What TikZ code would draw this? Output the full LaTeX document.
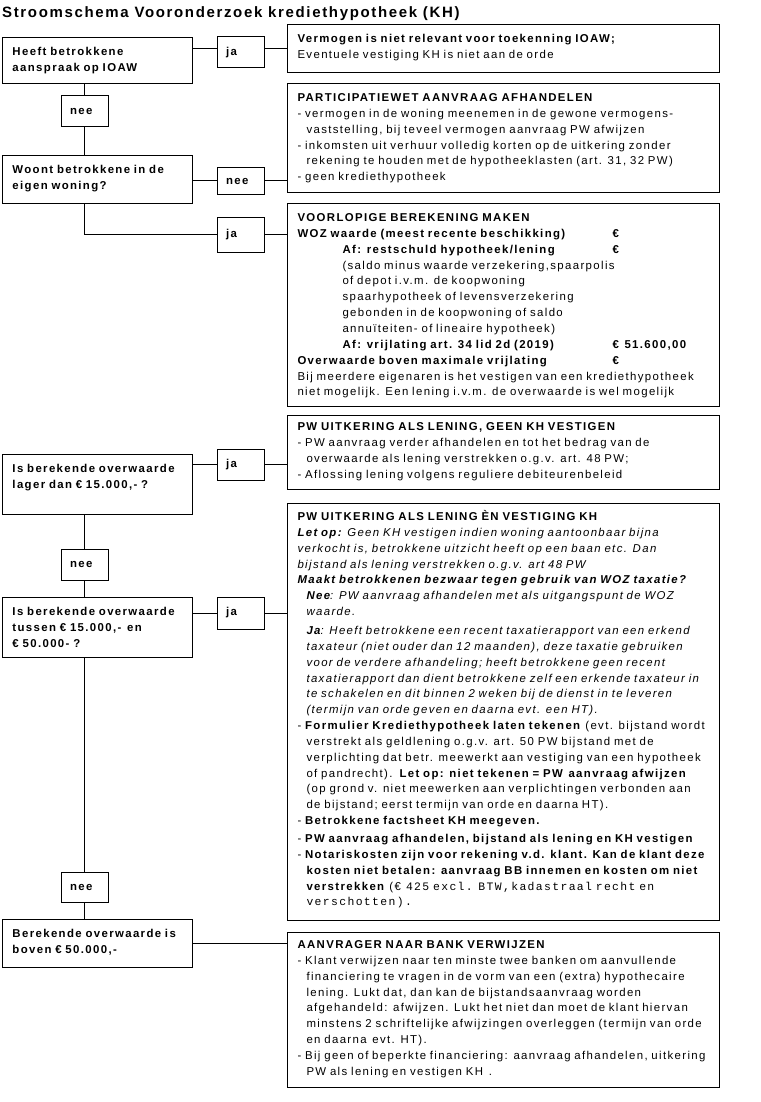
\documentclass[tikz,border=0pt]{standalone}
\usepackage{fontspec}
\setmainfont{Liberation Sans}[LetterSpace=12]
\setmonofont{Liberation Mono}[LetterSpace=12]
\usetikzlibrary{positioning}

\newcommand{\bodyfont}{\fontsize{11.4pt}{15.85pt}\selectfont}
\newcommand{\ind}{\hspace*{9pt}}
\newcommand{\col}{\hspace*{45pt}}

\begin{document}
\begin{tikzpicture}[x=1pt, y=-1pt,
    qbox/.style={draw, line width=1pt, anchor=north west, text width=170pt,
                 inner xsep=10pt, inner ysep=4pt, text height=14pt,
                 align=left, font=\bodyfont\bfseries},
    rbox/.style={draw, line width=1pt, anchor=north west, text width=412pt,
                 inner xsep=10pt, inner ysep=4pt, text height=14pt,
                 align=left, font=\bodyfont},
    tag/.style={draw, line width=1pt, minimum height=31pt, text width=29pt,
                inner xsep=9pt, inner ysep=0pt, align=left,
                font=\bodyfont\bfseries},
    link/.style={line width=1pt}
  ]
    \useasboundingbox (0,0) rectangle (760,1102);

    % Title
    \node[anchor=base west, inner sep=0pt,
          font=\fontsize{15pt}{18pt}\selectfont\addfontfeatures{LetterSpace=11}\bfseries]
      (title) at (2,18) {Stroomschema Vooronderzoek krediethypotheek (KH)};

    % Left column: questions
    \node[qbox, text depth=24pt] (q1) at (2,37)  {Heeft betrokkene\\aanspraak op IOAW};
    \node[qbox, text depth=26pt] (q2) at (2,155) {Woont betrokkene in de\\eigen woning?};
    \node[qbox, text depth=38pt] (q3) at (2,454) {Is berekende overwaarde\\lager dan € 15.000,- ?};
    \node[qbox, text depth=38pt] (q4) at (2,597) {Is berekende overwaarde\\tussen € 15.000,-\enspace en\\€ 50.000- ?};
    \node[qbox, text depth=26pt] (q5) at (2,919) {Berekende overwaarde is\\boven € 50.000,-};

    % Answer tags
    \node[tag] (ja1)  at (240.5,52.5)  {ja};
    \node[tag] (nee1) at (84.5,111.5)  {nee};
    \node[tag, minimum height=27pt] (nee2) at (240.5,181) {nee};
    \node[tag, minimum height=35pt] (ja3)  at (240.5,234.5) {ja};
    \node[tag] (ja4)  at (240.5,464.5) {ja};
    \node[tag] (nee3) at (84.5,564.5)  {nee};
    \node[tag, minimum height=32pt] (ja5)  at (240.5,613) {ja};
    \node[tag, minimum height=30pt] (nee4) at (84.5,887) {nee};

    % Right column: outcomes
    \node[rbox, text depth=26pt] (r1) at (287,24) {%
      \textbf{Vermogen is niet relevant voor toekenning IOAW;}\\
      Eventuele vestiging KH is niet aan de orde};

    \node[rbox, text depth=87pt] (r2) at (287,83) {%
      \textbf{PARTICIPATIEWET AANVRAAG AFHANDELEN}\\
      - vermogen in de woning meenemen in de gewone vermogens-\\
      \ind vaststelling, bij teveel vermogen aanvraag PW afwijzen\\
      - inkomsten uit verhuur volledig korten op de uitkering zonder\\
      \ind rekening te houden met de hypotheeklasten (art. 31, 32 PW)\\
      - geen krediethypotheek};

    \node[rbox, text depth=181pt] (r3) at (287,203) {%
      \textbf{VOORLOPIGE BEREKENING MAKEN}\\
      \makebox[315pt][l]{\textbf{WOZ waarde (meest recente beschikking)}}\textbf{€}\\
      \col\makebox[270pt][l]{\textbf{Af: restschuld hypotheek/lening}}\textbf{€}\\
      \col(saldo minus waarde verzekering,spaarpolis\\
      \col of depot i.v.m. de koopwoning\\
      \col spaarhypotheek of levensverzekering\\
      \col gebonden in de koopwoning of saldo\\
      \col annuïteiten- of lineaire hypotheek)\\
      \col\makebox[270pt][l]{\textbf{Af: vrijlating art. 34 lid 2d (2019)}}\textbf{€\enspace 51.600,00}\\
      \makebox[315pt][l]{\textbf{Overwaarde boven maximale vrijlating}}\textbf{€}\\
      Bij meerdere eigenaren is het vestigen van een krediethypotheek\\
      niet mogelijk. Een lening i.v.m. de overwaarde is wel mogelijk};

    \node[rbox, text height=11pt, text depth=55pt] (r4) at (287,415) {%
      \textbf{PW UITKERING ALS LENING, GEEN KH VESTIGEN}\\
      - PW aanvraag verder afhandelen en tot het bedrag van de\\
      \ind overwaarde als lening verstrekken o.g.v. art. 48 PW;\\
      - Aflossing lening volgens reguliere debiteurenbeleid};

    \node[rbox, text height=13pt, text depth=396pt] (r5) at (287,503) {%
      \textbf{PW UITKERING ALS LENING ÈN VESTIGING KH}\\
      \textit{\textbf{Let op:}\enspace Geen KH vestigen indien woning aantoonbaar bijna}\\
      \textit{verkocht is, betrokkene uitzicht heeft op een baan etc. Dan}\\
      \textit{bijstand als lening verstrekken o.g.v. art 48 PW}\\
      \textit{\textbf{Maakt betrokkenen bezwaar tegen gebruik van WOZ taxatie?}}\\
      \ind\textit{\textbf{Nee}: PW aanvraag afhandelen met als uitgangspunt de WOZ}\\
      \ind\textit{waarde.}\\[3pt]
      \ind\textit{\textbf{Ja}: Heeft betrokkene een recent taxatierapport van een erkend}\\
      \ind\textit{taxateur (niet ouder dan 12 maanden), deze taxatie gebruiken}\\
      \ind\textit{voor de verdere afhandeling; heeft betrokkene geen recent}\\
      \ind\textit{taxatierapport dan dient betrokkene zelf een erkende taxateur in}\\
      \ind\textit{te schakelen en dit binnen 2 weken bij de dienst in te leveren}\\
      \ind\textit{(termijn van orde geven en daarna evt. een HT).}\\
      - \textbf{Formulier Krediethypotheek laten tekenen} (evt. bijstand wordt\\
      \ind verstrekt als geldlening o.g.v. art. 50 PW bijstand met de\\
      \ind verplichting dat betr. meewerkt aan vestiging van een hypotheek\\
      \ind of pandrecht). \textbf{Let op: niet tekenen = PW\enspace aanvraag afwijzen}\\
      \ind (op grond v. niet meewerken aan verplichtingen verbonden aan\\
      \ind de bijstand; eerst termijn van orde en daarna HT).\\
      - \textbf{Betrokkene factsheet KH meegeven.}\\[2pt]
      - \textbf{PW aanvraag afhandelen, bijstand als lening en KH vestigen}\\
      - \textbf{Notariskosten zijn voor rekening v.d. klant. Kan de klant deze}\\
      \ind\textbf{kosten niet betalen: aanvraag BB innemen en kosten om niet}\\
      \ind\textbf{verstrekken} (€ \texttt{425 excl. BTW,kadastraal recht en}\\
      \ind\texttt{verschotten).}};

    \node[rbox, text height=12pt, text depth=135pt] (r6) at (287,932) {%
      \textbf{AANVRAGER NAAR BANK VERWIJZEN}\\
      - Klant verwijzen naar ten minste twee banken om aanvullende\\
      \ind financiering te vragen in de vorm van een (extra) hypothecaire\\
      \ind lening. Lukt dat, dan kan de bijstandsaanvraag worden\\
      \ind afgehandeld: afwijzen. Lukt het niet dan moet de klant hiervan\\
      \ind minstens 2 schriftelijke afwijzingen overleggen (termijn van orde\\
      \ind en daarna\enspace evt. HT).\\
      - Bij geen of beperkte financiering: aanvraag afhandelen, uitkering\\
      \ind PW als lening en vestigen KH\enspace.};

    % Connectors
    \draw[link] (q1.east |- r1) -- (ja1.west |- r1);
    \draw[link] (ja1.east |- r1) -- (r1.west);
    \draw[link] (nee1 |- q1.south) -- (nee1.north);
    \draw[link] (nee1.south) -- (nee1 |- q2.north);
    \draw[link] (q2.east |- nee2) -- (nee2.west);
    \draw[link] (nee2.east) -- (r2.west |- nee2);
    \draw[link] (nee1 |- q2.south) |- (ja3.west);
    \draw[link] (ja3.east) -- (r3.west |- ja3);
    \draw[link] (q3.east |- ja4) -- (ja4.west);
    \draw[link] (ja4.east) -- (r4.west |- ja4);
    \draw[link] (nee3 |- q3.south) -- (nee3.north);
    \draw[link] (nee3.south) -- (nee3 |- q4.north);
    \draw[link] (q4.east |- ja5) -- (ja5.west);
    \draw[link] (ja5.east) -- (r5.west |- ja5);
    \draw[link] (nee4 |- q4.south) -- (nee4.north);
    \draw[link] (nee4.south) -- (nee4 |- q5.north);
    \draw[link] (q5.east) -- (r6.west |- q5.east);
\end{tikzpicture}
\end{document}
